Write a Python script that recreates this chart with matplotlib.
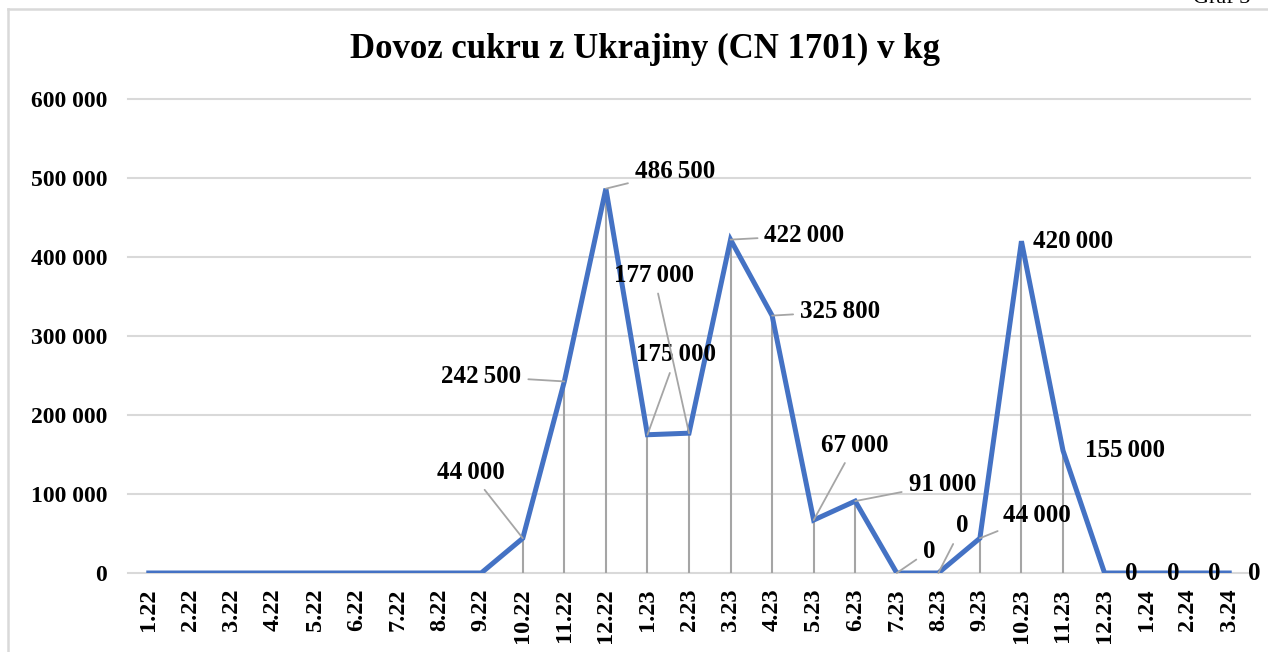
import numpy as np
import matplotlib.pyplot as plt
from matplotlib.lines import Line2D

plt.rcParams['font.family'] = ['Liberation Serif', 'DejaVu Serif']

# Kategorie (mesiac.rok)
mesiace = ['1.22', '2.22', '3.22', '4.22', '5.22', '6.22', '7.22', '8.22', '9.22',
           '10.22', '11.22', '12.22', '1.23', '2.23', '3.23', '4.23', '5.23', '6.23',
           '7.23', '8.23', '9.23', '10.23', '11.23', '12.23', '1.24', '2.24', '3.24']

# Dovoz v kg
dovoz = [0, 0, 0, 0, 0, 0, 0, 0, 0,
         44000, 242500, 486500, 175000, 177000, 422000, 325800, 67000, 91000,
         0, 0, 44000, 420000, 155000, 0, 0, 0, 0]

# Ktoré body majú popis (od 10.22 ďalej)
popis_od = 9

# Posun popisov v pixeloch (dx, dy) a či majú spojovaciu čiaru
posuny = {9: (-52, 66), 10: (-83, 5), 11: (69, 17), 12: (29, 80), 13: (-35, 158),
          14: (74, 4), 15: (68, 4), 16: (41, 75), 17: (87, 17), 18: (32, 22),
          19: (24, 47), 20: (57, 23), 21: (52, 0), 22: (62, 0),
          23: (27, 0), 24: (27, 0), 25: (27, 0), 26: (25, 0)}
bez_ciary = [21, 22, 23, 24, 25, 26]


def format_cislo(v, medzera=' '):
    return '{:,}'.format(int(v)).replace(',', medzera)


fig = plt.figure(figsize=(12.68, 6.52), dpi=100)
ax = fig.add_axes([128 / 1268, 1 - 573 / 652, (1250 - 128) / 1268, (573 - 99) / 652])

x = np.arange(len(mesiace))

# mriežka
ax.set_ylim(0, 600000)
ax.set_xlim(-0.5, len(mesiace) - 0.5)
ax.set_yticks(np.arange(0, 600001, 100000))
ax.grid(axis='y', color='#D9D9D9', linewidth=1.5)
ax.set_axisbelow(True)
for g in ax.get_ygridlines():
    g.set_clip_on(False)
for s in ax.spines.values():
    s.set_visible(False)
ax.tick_params(length=0)
ax.tick_params(axis='y', pad=15)
ax.tick_params(axis='x', pad=11)

# zvislé čiary k bodom
ax.vlines(x, 0, dovoz, color='#A5A5A5', linewidth=1.5, zorder=2)

# krivka
ax.plot(x, dovoz, color='#4472C4', linewidth=3.6, solid_joinstyle='miter', zorder=3)

ax.set_xticks(x)
ax.set_xticklabels(mesiace, rotation=90, fontsize=17.5, fontweight='bold')
ax.set_yticklabels([format_cislo(v) for v in ax.get_yticks()], fontsize=17, fontweight='bold')

# popisy hodnôt
for i in range(popis_od, len(dovoz)):
    dx, dy = posuny[i]
    text = format_cislo(dovoz[i], '\u2009')
    if i in bez_ciary:
        ax.annotate(text, (x[i], dovoz[i]), xytext=(dx, dy),
                    textcoords='offset pixels', ha='center', va='center',
                    fontsize=18, fontweight='bold', zorder=5, annotation_clip=False)
    else:
        ax.annotate(text, (x[i], dovoz[i]), xytext=(dx, dy),
                    textcoords='offset pixels', ha='center', va='center',
                    fontsize=18, fontweight='bold', zorder=5, annotation_clip=False,
                    arrowprops=dict(arrowstyle='-', color='#A5A5A5', lw=1.3,
                                    shrinkA=3, shrinkB=0))

# nadpis
fig.text(0.509, 1 - 49 / 652, 'Dovoz cukru z Ukrajiny (CN 1701) v kg',
         ha='center', va='center', fontsize=25, fontweight='bold')

# číslo grafu (orezané hore)
fig.text(1250 / 1268, 1 - 3 / 652, 'Graf 3', ha='right', va='baseline', fontsize=16)

# rámik
fig.add_artist(Line2D([8 / 1268, 1], [1 - 9 / 652, 1 - 9 / 652], color='#D9D9D9',
                      linewidth=1.8, transform=fig.transFigure))
fig.add_artist(Line2D([8 / 1268, 8 / 1268], [0, 1 - 9 / 652], color='#D9D9D9',
                      linewidth=1.8, transform=fig.transFigure))

fig.savefig('out.png', dpi=100)
